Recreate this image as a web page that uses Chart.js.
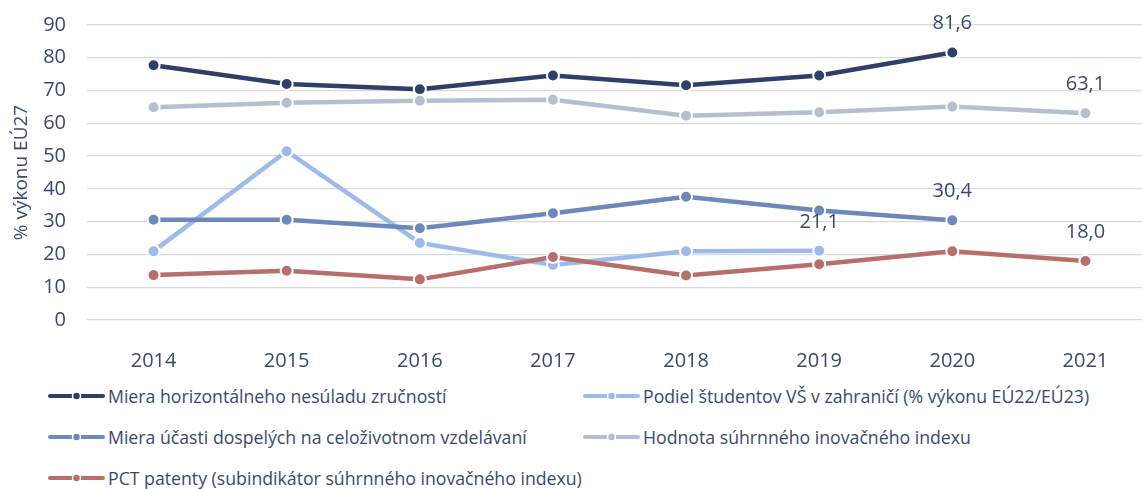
<!DOCTYPE html>
<html lang="sk">
<head>
<meta charset="utf-8">
<script src="https://cdn.jsdelivr.net/npm/chart.js@4.4.1/dist/chart.umd.min.js"></script>
<style>
    html, body { margin: 0; padding: 0; background: #fff; overflow: hidden; }
    body { width: 1142px; height: 489px; position: relative; font-family: "Open Sans", sans-serif; color: #3a4a6a; }
    #obal { position: absolute; left: 0; top: 0; width: 1160px; height: 372px; }
    #legenda {
        position: absolute; left: 48px; top: 375px;
        display: grid; grid-template-columns: 535px auto; grid-auto-rows: 41px;
    }
    .polozka { display: flex; align-items: center; font-size: 17.7px; white-space: nowrap; }
    .polozka svg { margin-right: 3px; flex: none; }
</style>
</head>
<body>
<div id="obal"><canvas id="graf" width="1160" height="372"></canvas></div>
<div id="legenda"></div>

<script>
/* ===== DÁTA ===== */
const roky = ['2014', '2015', '2016', '2017', '2018', '2019', '2020', '2021'];

const nesulad       = [77.7, 72.0, 70.4, 74.6, 71.6, 74.6, 81.6, null];
const studentiVS    = [21.0, 51.5, 23.5, 16.8, 21.0, 21.1, null, null];
const celozivotne   = [30.6, 30.6, 28.0, 32.6, 37.6, 33.4, 30.4, null];
const inovIndex     = [64.9, 66.3, 66.9, 67.2, 62.3, 63.4, 65.1, 63.1];
const pctPatenty    = [13.7, 15.0, 12.4, 19.2, 13.6, 17.0, 21.0, 18.0];

const nazvy = [
    'Miera horizontálneho nesúladu zručností',
    'Podiel študentov VŠ v zahraničí (% výkonu EÚ22/EÚ23)',
    'Miera účasti dospelých na celoživotnom vzdelávaní',
    'Hodnota súhrnného inovačného indexu',
    'PCT patenty (subindikátor súhrnného inovačného indexu)'
];
const farby = ['#2f4068', '#9cbbeb', '#6e88b9', '#b5bfcf', '#b86e6b'];

// [séria, index roku] - ktoré body majú popisok
const popisky = [[0, 6], [1, 5], [2, 6], [3, 7], [4, 7]];

const yMin = 0, yMax = 90, yKrok = 10;
const farbaTextu = '#3a4a6a';

/* ===== GRAF ===== */
const serie = [nesulad, studentiVS, celozivotne, inovIndex, pctPatenty];

const datasety = serie.map((hodnoty, i) => ({
    label: nazvy[i],
    data: hodnoty,
    borderColor: farby[i],
    backgroundColor: farby[i],
    borderWidth: 4.5,
    pointRadius: 6,
    pointBorderWidth: 2,
    pointBorderColor: '#ffffff',
    pointBackgroundColor: farby[i],
    tension: 0,
    order: -i
}));

const pluginPopisky = {
    id: 'popisky',
    afterDatasetsDraw(chart) {
        const ctx = chart.ctx;
        ctx.save();
        ctx.font = '20px "Open Sans"';
        ctx.fillStyle = farbaTextu;
        ctx.textAlign = 'center';
        ctx.textBaseline = 'middle';
        popisky.forEach(([s, i]) => {
            const bod = chart.getDatasetMeta(s).data[i];
            const text = serie[s][i].toFixed(1).replace('.', ',');
            ctx.fillText(text, bod.x, bod.y - 29);
        });
        ctx.restore();
    }
};

new Chart(document.getElementById('graf'), {
    type: 'line',
    data: { labels: roky, datasets: datasety },
    options: {
        responsive: false,
        animation: false,
        devicePixelRatio: 1,
        layout: { padding: { top: 25, right: 7, bottom: 0, left: 0 } },
        plugins: { legend: { display: false }, tooltip: { enabled: false } },
        scales: {
            x: {
                offset: true,
                grid: { display: false },
                border: { display: false },
                ticks: { color: farbaTextu, font: { family: 'Open Sans', size: 20 }, padding: 21, maxRotation: 0 },
                afterFit: (s) => { s.height = 52; s.paddingLeft = 0; s.paddingRight = 0; }
            },
            y: {
                min: yMin, max: yMax,
                grid: { color: '#d9d9d9', lineWidth: 1.3, drawTicks: false },
                border: { display: false },
                ticks: { stepSize: yKrok, color: farbaTextu, font: { family: 'Open Sans', size: 20 }, padding: 21 },
                title: {
                    display: true, text: '% výkonu EÚ27', color: farbaTextu,
                    font: { family: 'Open Sans', size: 19 }, padding: { top: 10, bottom: 0 }
                },
                afterFit: (s) => { s.width = 87; s.paddingTop = 0; s.paddingBottom = 0; }
            }
        }
    },
    plugins: [pluginPopisky]
});

/* ===== LEGENDA ===== */
const legenda = document.getElementById('legenda');
// poradie po riadkoch: 0,1 / 2,3 / 4
nazvy.forEach((nazov, i) => {
    const el = document.createElement('div');
    el.className = 'polozka';
    el.innerHTML =
        `<svg width="57" height="10"><line x1="2" y1="5" x2="55" y2="5" stroke="${farby[i]}" stroke-width="4" stroke-linecap="round"/>` +
        `<circle cx="28.5" cy="5" r="4" fill="${farby[i]}" stroke="#fff" stroke-width="1.5"/></svg><span>${nazov}</span>`;
    legenda.appendChild(el);
});
</script>
</body>
</html>
